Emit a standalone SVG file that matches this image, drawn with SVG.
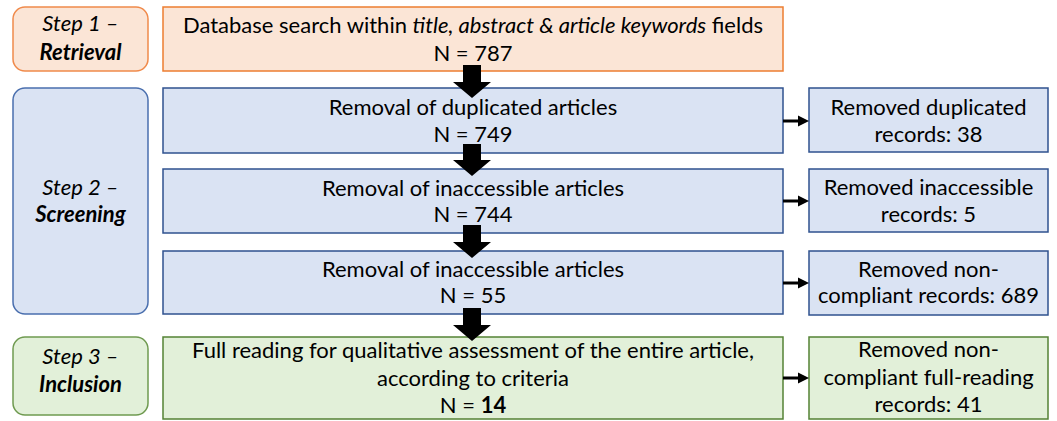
<svg xmlns="http://www.w3.org/2000/svg" width="1057" height="421" viewBox="0 0 1057 421">
  <style>
    text { font-family: Lato, "Open Sans", "Liberation Sans", sans-serif; font-size: 22px; fill: #000; text-anchor: middle; }
    .it { font-style: italic; }
    .bi { font-style: italic; font-weight: bold; }
    .b { font-weight: bold; }
    .orange { fill: #FBE5D6; stroke: #ED7D31; stroke-width: 1.5; }
    .blue { fill: #DAE3F3; stroke: #2F528F; stroke-width: 1.5; }
    .green { fill: #E2F0D9; stroke: #548235; stroke-width: 1.5; }
    .step.orange { stroke: #F08A4B; }
    .step.blue { stroke: #4A6FAE; }
    .step.green { stroke: #6F9A50; }
    .block { fill: #000; }
    .side { stroke: #000; stroke-width: 3; fill: none; }
  </style>

  <!-- stage labels -->
  <g id="step1">
    <rect class="orange step" x="13" y="7" width="135" height="64" rx="12"/>
    <text x="80.5" y="31" class="it">Step 1 –</text>
    <text x="80.5" y="60" class="bi">Retrieval</text>
  </g>
  <g id="step2">
    <rect class="blue step" x="13" y="88" width="135" height="226" rx="12"/>
    <text x="80.5" y="195" class="it">Step 2 –</text>
    <text x="80.5" y="222" class="bi">Screening</text>
  </g>
  <g id="step3">
    <rect class="green step" x="13" y="337" width="135" height="78" rx="12"/>
    <text x="80.5" y="364" class="it">Step 3 –</text>
    <text x="80.5" y="392" class="bi">Inclusion</text>
  </g>

  <!-- main flow -->
  <g id="search">
    <rect class="orange" x="163" y="7" width="620" height="64"/>
    <text x="473" y="33">Database search within <tspan class="it">title, abstract &amp; article keywords</tspan> fields</text>
    <text x="473" y="61">N = 787</text>
  </g>
  <g id="dedup">
    <rect class="blue" x="163" y="88" width="620" height="65"/>
    <text x="473" y="115">Removal of duplicated articles</text>
    <text x="473" y="142">N = 749</text>
  </g>
  <g id="access">
    <rect class="blue" x="163" y="169" width="620" height="64"/>
    <text x="473" y="196">Removal of inaccessible articles</text>
    <text x="473" y="222">N = 744</text>
  </g>
  <g id="compliance">
    <rect class="blue" x="163" y="251" width="620" height="63"/>
    <text x="473" y="277">Removal of inaccessible articles</text>
    <text x="473" y="303">N = 55</text>
  </g>
  <g id="fullread">
    <rect class="green" x="163" y="337" width="620" height="82"/>
    <text x="473" y="358">Full reading for qualitative assessment of the entire article,</text>
    <text x="473" y="386">according to criteria</text>
    <text x="473" y="413">N = <tspan class="b">14</tspan></text>
  </g>

  <!-- exclusion counts -->
  <g id="out-dup">
    <rect class="blue" x="809" y="88" width="239" height="64"/>
    <text x="928.5" y="115">Removed duplicated</text>
    <text x="928.5" y="142">records: 38</text>
  </g>
  <g id="out-access">
    <rect class="blue" x="809" y="169" width="239" height="63"/>
    <text x="928.5" y="195">Removed inaccessible</text>
    <text x="928.5" y="222">records: 5</text>
  </g>
  <g id="out-compliance">
    <rect class="blue" x="809" y="251" width="239" height="64"/>
    <text x="928.5" y="277">Removed non-</text>
    <text x="928.5" y="303">compliant records: 689</text>
  </g>
  <g id="out-fullread">
    <rect class="green" x="809" y="337" width="239" height="82"/>
    <text x="928.5" y="357">Removed non-</text>
    <text x="928.5" y="385">compliant full-reading</text>
    <text x="928.5" y="412">records: 41</text>
  </g>

  <!-- connectors -->
  <g id="connectors">
    <path class="block" d="M463,65 H481 V82 H491 L472,98 L453,82 H463 Z"/>
    <path class="block" d="M463,144 H481 V160 H491 L472,176 L453,160 H463 Z"/>
    <path class="block" d="M463,225 H481 V242 H491 L472,258 L453,242 H463 Z"/>
    <path class="block" d="M463,308 H481 V325 H491 L472,341 L453,325 H463 Z"/>
    <line class="side" x1="783" y1="121" x2="799" y2="121"/>
    <path d="M798,115.5 L809,121 L798,126.5 Z"/>
    <line class="side" x1="783" y1="201" x2="799" y2="201"/>
    <path d="M798,195.5 L809,201 L798,206.5 Z"/>
    <line class="side" x1="783" y1="283" x2="799" y2="283"/>
    <path d="M798,277.5 L809,283 L798,288.5 Z"/>
    <line class="side" x1="783" y1="378" x2="799" y2="378"/>
    <path d="M798,372.5 L809,378 L798,383.5 Z"/>
  </g>
</svg>
